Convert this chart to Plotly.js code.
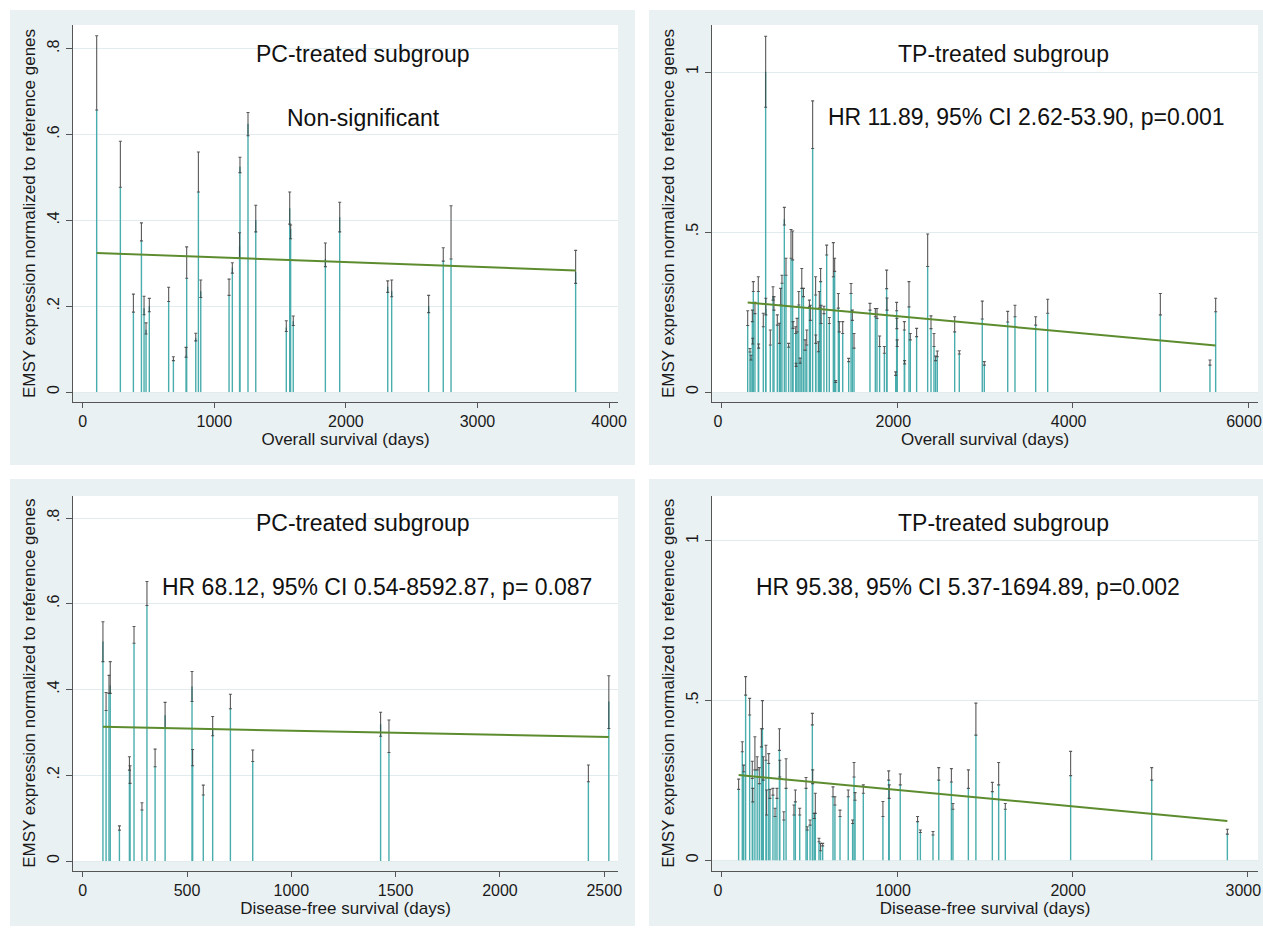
<!DOCTYPE html>
<html>
<head>
<meta charset="utf-8">
<script src="https://cdn.plot.ly/plotly-3.0.1.min.js"></script>
<style>
  html, body { margin: 0; padding: 0; background: #ffffff; }
  #chart { width: 1263px; height: 928px; }
</style>
</head>
<body>
<div id="chart"></div>
<script>
// ---------- PC-treated subgroup, overall survival ----------
const pcOsDays = [106, 286, 385, 446, 466, 481, 506, 653, 689, 785, 790, 859, 879, 897, 1112, 1137, 1195, 1192, 1256, 1315, 1547, 1573, 1580, 1600, 1844, 1953, 2318, 2348, 2629, 2740, 2799, 3746];
const pcOsEmsy = [0.657, 0.477, 0.186, 0.352, 0.195, 0.145, 0.200, 0.211, 0.075, 0.085, 0.265, 0.125, 0.466, 0.235, 0.225, 0.290, 0.525, 0.340, 0.625, 0.400, 0.150, 0.428, 0.380, 0.165, 0.310, 0.407, 0.245, 0.235, 0.200, 0.305, 0.310, 0.280];
const pcOsLow  = [0.657, 0.477, 0.186, 0.352, 0.180, 0.135, 0.187, 0.211, 0.073, 0.081, 0.265, 0.119, 0.466, 0.220, 0.225, 0.277, 0.511, 0.312, 0.597, 0.373, 0.141, 0.391, 0.357, 0.155, 0.292, 0.373, 0.232, 0.222, 0.185, 0.305, 0.310, 0.253];
const pcOsHigh = [0.830, 0.584, 0.228, 0.394, 0.223, 0.161, 0.218, 0.244, 0.082, 0.104, 0.338, 0.137, 0.559, 0.261, 0.263, 0.301, 0.547, 0.371, 0.651, 0.435, 0.166, 0.466, 0.389, 0.177, 0.347, 0.442, 0.259, 0.261, 0.225, 0.336, 0.434, 0.330];
const pcOsFitDays = [106, 3746];
const pcOsFitEmsy = [0.324, 0.283];

// ---------- TP-treated subgroup, overall survival ----------
const tpOsDays = [293, 319, 331, 346, 350, 357, 376, 414, 418, 471, 498, 500, 551, 582, 593, 631, 654, 669, 684, 711, 730, 760, 787, 806, 810, 841, 845, 856, 876, 891, 910, 929, 948, 967, 997, 1008, 1034, 1068, 1070, 1099, 1110, 1125, 1130, 1163, 1194, 1224, 1270, 1285, 1297, 1327, 1338, 1377, 1445, 1472, 1487, 1506, 1688, 1749, 1768, 1798, 1852, 1878, 1882, 1981, 1992, 1995, 1998, 2080, 2083, 2133, 2148, 2220, 2346, 2384, 2418, 2437, 2456, 2654, 2707, 2969, 2992, 3259, 3342, 3578, 3715, 5000, 5566, 5631];
const tpOsEmsy = [0.208, 0.125, 0.105, 0.220, 0.160, 0.314, 0.245, 0.314, 0.140, 0.204, 1.001, 0.260, 0.147, 0.300, 0.256, 0.209, 0.152, 0.272, 0.340, 0.540, 0.365, 0.145, 0.418, 0.413, 0.199, 0.183, 0.080, 0.188, 0.272, 0.095, 0.324, 0.298, 0.131, 0.147, 0.266, 0.224, 0.761, 0.303, 0.152, 0.126, 0.262, 0.345, 0.214, 0.245, 0.428, 0.214, 0.360, 0.377, 0.032, 0.262, 0.188, 0.183, 0.095, 0.308, 0.224, 0.137, 0.256, 0.235, 0.230, 0.142, 0.121, 0.323, 0.256, 0.052, 0.254, 0.198, 0.142, 0.194, 0.088, 0.266, 0.163, 0.173, 0.392, 0.198, 0.142, 0.098, 0.110, 0.188, 0.119, 0.228, 0.084, 0.219, 0.235, 0.209, 0.246, 0.241, 0.084, 0.251];
const tpOsLow  = [0.208, 0.125, 0.100, 0.220, 0.150, 0.314, 0.245, 0.314, 0.137, 0.204, 0.890, 0.241, 0.147, 0.287, 0.256, 0.209, 0.152, 0.272, 0.340, 0.522, 0.365, 0.140, 0.418, 0.413, 0.199, 0.183, 0.080, 0.188, 0.272, 0.090, 0.324, 0.298, 0.131, 0.147, 0.266, 0.224, 0.761, 0.303, 0.152, 0.126, 0.262, 0.345, 0.214, 0.245, 0.428, 0.214, 0.360, 0.377, 0.030, 0.262, 0.188, 0.183, 0.095, 0.308, 0.224, 0.137, 0.256, 0.235, 0.230, 0.142, 0.121, 0.323, 0.256, 0.052, 0.254, 0.198, 0.142, 0.194, 0.088, 0.266, 0.163, 0.173, 0.392, 0.198, 0.142, 0.098, 0.110, 0.188, 0.119, 0.228, 0.084, 0.219, 0.235, 0.209, 0.246, 0.241, 0.084, 0.251];
const tpOsHigh = [0.254, 0.136, 0.115, 0.256, 0.168, 0.345, 0.280, 0.360, 0.150, 0.246, 1.112, 0.293, 0.194, 0.329, 0.298, 0.241, 0.215, 0.324, 0.365, 0.577, 0.418, 0.152, 0.508, 0.503, 0.220, 0.204, 0.090, 0.230, 0.314, 0.106, 0.386, 0.324, 0.163, 0.194, 0.287, 0.271, 0.910, 0.360, 0.178, 0.157, 0.314, 0.386, 0.271, 0.268, 0.459, 0.233, 0.467, 0.418, 0.036, 0.308, 0.220, 0.220, 0.105, 0.339, 0.256, 0.183, 0.277, 0.261, 0.261, 0.175, 0.142, 0.381, 0.294, 0.063, 0.280, 0.230, 0.163, 0.220, 0.098, 0.345, 0.183, 0.199, 0.494, 0.238, 0.183, 0.112, 0.128, 0.235, 0.129, 0.284, 0.095, 0.252, 0.271, 0.235, 0.290, 0.308, 0.100, 0.293];
const tpOsFitDays = [293, 5631];
const tpOsFitEmsy = [0.280, 0.145];

// ---------- PC-treated subgroup, disease-free survival ----------
const pcDfsDays = [97, 112, 126, 132, 176, 224, 227, 246, 284, 308, 347, 395, 524, 527, 578, 623, 708, 815, 1428, 1468, 2424, 2522];
const pcDfsEmsy = [0.512, 0.351, 0.391, 0.410, 0.072, 0.212, 0.181, 0.508, 0.119, 0.596, 0.220, 0.340, 0.407, 0.222, 0.154, 0.310, 0.355, 0.232, 0.319, 0.253, 0.185, 0.372];
const pcDfsLow  = [0.465, 0.351, 0.391, 0.391, 0.072, 0.212, 0.181, 0.508, 0.119, 0.596, 0.220, 0.309, 0.372, 0.222, 0.154, 0.292, 0.355, 0.232, 0.291, 0.253, 0.185, 0.309];
const pcDfsHigh = [0.558, 0.393, 0.433, 0.465, 0.082, 0.243, 0.222, 0.547, 0.136, 0.652, 0.261, 0.370, 0.442, 0.260, 0.177, 0.337, 0.389, 0.259, 0.347, 0.329, 0.224, 0.432];
const pcDfsFitDays = [97, 2522];
const pcDfsFitEmsy = [0.313, 0.289];

// ---------- TP-treated subgroup, disease-free survival ----------
const tpDfsDays = [95, 116, 124, 135, 158, 173, 176, 188, 201, 213, 225, 231, 236, 251, 255, 267, 274, 291, 303, 314, 328, 330, 353, 366, 411, 419, 444, 480, 487, 503, 516, 518, 527, 533, 554, 563, 575, 634, 645, 674, 721, 746, 754, 760, 807, 919, 952, 955, 1018, 1117, 1133, 1205, 1238, 1310, 1319, 1407, 1450, 1544, 1580, 1618, 1991, 2454, 2886];
const tpDfsEmsy = [0.222, 0.340, 0.277, 0.517, 0.455, 0.256, 0.183, 0.283, 0.283, 0.240, 0.355, 0.412, 0.251, 0.313, 0.142, 0.303, 0.194, 0.204, 0.137, 0.194, 0.344, 0.261, 0.126, 0.225, 0.142, 0.183, 0.142, 0.225, 0.095, 0.110, 0.424, 0.240, 0.131, 0.147, 0.058, 0.030, 0.045, 0.199, 0.173, 0.137, 0.199, 0.115, 0.261, 0.188, 0.210, 0.137, 0.251, 0.194, 0.236, 0.121, 0.087, 0.079, 0.251, 0.245, 0.160, 0.225, 0.392, 0.215, 0.236, 0.160, 0.265, 0.251, 0.082];
const tpDfsLow  = [0.222, 0.340, 0.277, 0.517, 0.455, 0.256, 0.183, 0.283, 0.283, 0.240, 0.355, 0.412, 0.251, 0.313, 0.142, 0.303, 0.194, 0.204, 0.137, 0.194, 0.344, 0.261, 0.126, 0.225, 0.142, 0.183, 0.142, 0.225, 0.095, 0.110, 0.424, 0.240, 0.131, 0.147, 0.058, 0.030, 0.045, 0.199, 0.173, 0.137, 0.199, 0.115, 0.261, 0.188, 0.210, 0.137, 0.251, 0.194, 0.236, 0.121, 0.087, 0.079, 0.251, 0.245, 0.160, 0.225, 0.392, 0.215, 0.236, 0.160, 0.265, 0.251, 0.082];
const tpDfsHigh = [0.254, 0.371, 0.298, 0.575, 0.507, 0.310, 0.225, 0.387, 0.324, 0.290, 0.412, 0.500, 0.324, 0.360, 0.220, 0.334, 0.222, 0.225, 0.163, 0.225, 0.412, 0.313, 0.152, 0.318, 0.173, 0.220, 0.163, 0.259, 0.105, 0.126, 0.460, 0.283, 0.147, 0.210, 0.069, 0.053, 0.053, 0.230, 0.199, 0.157, 0.220, 0.126, 0.306, 0.212, 0.236, 0.184, 0.280, 0.236, 0.270, 0.137, 0.095, 0.090, 0.290, 0.287, 0.178, 0.283, 0.492, 0.244, 0.306, 0.178, 0.341, 0.290, 0.097];
const tpDfsFitDays = [95, 2886];
const tpDfsFitEmsy = [0.267, 0.123];

// ---------- labels ----------
const yTitle = 'EMSY expression normalized to reference genes';
const osTitle = 'Overall survival (days)';
const dfsTitle = 'Disease-free survival (days)';
const pcHeading = 'PC-treated subgroup';
const tpHeading = 'TP-treated subgroup';
const pcOsNote = 'Non-significant';
const tpOsNote = 'HR 11.89, 95% CI 2.62-53.90, p=0.001';
const pcDfsNote = 'HR 68.12, 95% CI 0.54-8592.87, p= 0.087';
const tpDfsNote = 'HR 95.38, 95% CI 5.37-1694.89, p=0.002';
const pcTickVals = [0, 0.2, 0.4, 0.6, 0.8];
const pcTickText = ['0', '.2', '.4', '.6', '.8'];
const tpTickVals = [0, 0.5, 1];
const tpTickText = ['0', '.5', '1'];

// ---------- styling ----------
const W = 1263, H = 928;
const FONT = 'Liberation Sans, Arial, Helvetica, sans-serif';
const PANEL_BG = '#eaf1f3';
const GRID = '#e2ecef';
const SPIKE = '#4aadad';
const CAP = 'rgba(60,60,60,0.85)';
const FIT = '#5d8c2f';
const AXIS = '#555555';
const TICK_SIZE = 16;
const TITLE_SIZE = 17;

const px = v => v / W;
const py = v => 1 - v / H;

const panels = [
  { days: pcOsDays, emsy: pcOsEmsy, low: pcOsLow, high: pcOsHigh, fx: pcOsFitDays, fy: pcOsFitEmsy,
    xr: [-74, 4068], yr: [-0.0233, 0.855], xt: [0, 1000, 2000, 3000, 4000], shift: 0,
    yv: pcTickVals, yt: pcTickText, xtitle: osTitle,
    dom: [73, 618, 25, 402], bg: [10, 635, 10, 465] },
  { days: tpOsDays, emsy: tpOsEmsy, low: tpOsLow, high: tpOsHigh, fx: tpOsFitDays, fy: tpOsFitEmsy,
    xr: [-114, 6114], yr: [-0.03125, 1.147], xt: [0, 2000, 4000, 6000], shift: -4,
    yv: tpTickVals, yt: tpTickText, xtitle: osTitle,
    dom: [712, 1258, 25, 402], bg: [649, 1263, 10, 465] },
  { days: pcDfsDays, emsy: pcDfsEmsy, low: pcDfsLow, high: pcDfsHigh, fx: pcDfsFitDays, fy: pcDfsFitEmsy,
    xr: [-46.5, 2566], yr: [-0.0226, 0.852], xt: [0, 500, 1000, 1500, 2000, 2500], shift: 0,
    yv: pcTickVals, yt: pcTickText, xtitle: dfsTitle,
    dom: [73, 618, 495.7, 870.7], bg: [10, 635, 479, 926] },
  { days: tpDfsDays, emsy: tpDfsEmsy, low: tpDfsLow, high: tpDfsHigh, fx: tpDfsFitDays, fy: tpDfsFitEmsy,
    xr: [-57, 3061], yr: [-0.0326, 1.1415], xt: [0, 1000, 2000, 3000], shift: -4,
    yv: tpTickVals, yt: tpTickText, xtitle: dfsTitle,
    dom: [712, 1258, 495.7, 870.7], bg: [649, 1263, 479, 926] }
];

const traces = [];
const layout = {
  width: W, height: H,
  margin: { l: 0, r: 0, t: 0, b: 0 },
  paper_bgcolor: '#ffffff',
  plot_bgcolor: 'rgba(0,0,0,0)',
  showlegend: false,
  font: { family: FONT, color: '#1a1a1a' },
  shapes: [],
  annotations: []
};

panels.forEach((p, i) => {
  const n = i === 0 ? '' : String(i + 1);
  const xa = 'x' + n, ya = 'y' + n;

  // spikes from zero up to each measurement
  traces.push({
    type: 'scatter', mode: 'markers', xaxis: xa, yaxis: ya,
    x: p.days, y: p.emsy,
    marker: { size: 2, opacity: 0 },
    error_y: { type: 'data', symmetric: false, array: p.emsy.map(() => 0), arrayminus: p.emsy,
               color: SPIKE, thickness: 1.4, width: 0 },
    hoverinfo: 'skip'
  });
  // capped range of replicate measurements
  traces.push({
    type: 'scatter', mode: 'markers', xaxis: xa, yaxis: ya,
    x: p.days, y: p.emsy,
    marker: { size: 2, opacity: 0 },
    error_y: { type: 'data', symmetric: false,
               array: p.high.map((h, k) => h - p.emsy[k]),
               arrayminus: p.low.map((l, k) => p.emsy[k] - l),
               color: CAP, thickness: 1.1, width: 1.5 },
    hoverinfo: 'skip'
  });
  // linear fit
  traces.push({
    type: 'scatter', mode: 'lines', xaxis: xa, yaxis: ya,
    x: p.fx, y: p.fy, line: { color: FIT, width: 2 }, hoverinfo: 'skip'
  });

  const [l, r, t, b] = p.dom;
  layout['xaxis' + n] = {
    domain: [px(l), px(r)], anchor: ya, range: p.xr,
    tickvals: p.xt, ticks: 'outside', ticklen: 5, tickwidth: 1, tickcolor: AXIS,
    ticklabelshift: p.shift,
    showline: true, linecolor: AXIS, linewidth: 1.2, showgrid: false, zeroline: false,
    tickfont: { size: TICK_SIZE, family: FONT, color: '#1a1a1a' },
    title: { text: p.xtitle, font: { size: TITLE_SIZE, family: FONT, color: '#1a1a1a' }, standoff: 3 },
    automargin: false
  };
  layout['yaxis' + n] = {
    domain: [py(b), py(t)], anchor: xa, range: p.yr,
    tickvals: p.yv, ticktext: p.yt, tickangle: -90,
    ticks: 'outside', ticklen: 6, tickwidth: 1, tickcolor: AXIS,
    showline: true, linecolor: AXIS, linewidth: 1.2,
    showgrid: true, gridcolor: GRID, gridwidth: 1, zeroline: false,
    tickfont: { size: TICK_SIZE, family: FONT, color: '#1a1a1a' },
    title: { text: yTitle, font: { size: TITLE_SIZE, family: FONT, color: '#1a1a1a' }, standoff: 5 },
    automargin: false
  };

  // panel background
  const [bl, br, bt, bb] = p.bg;
  layout.shapes.push({
    type: 'rect', xref: 'paper', yref: 'paper', layer: 'below',
    x0: px(bl), x1: px(br), y0: py(bb), y1: py(bt),
    fillcolor: PANEL_BG, line: { width: 0 }
  });
  // white plot region above zero
  layout.shapes.push({
    type: 'rect', xref: xa + ' domain', yref: ya, layer: 'below',
    x0: 0, x1: 1, y0: 0, y1: p.yr[1],
    fillcolor: '#ffffff', line: { width: 0 }
  });
});

// headings and test results
const textAt = (text, x, y) => ({
  text, xref: 'paper', yref: 'paper', x: px(x), y: py(y),
  xanchor: 'center', yanchor: 'middle', showarrow: false,
  font: { size: 23, family: FONT, color: '#111111' }
});
layout.annotations.push(
  textAt(pcHeading, 363, 54),
  textAt(pcOsNote, 363, 118),
  textAt(tpHeading, 1003, 54),
  textAt(tpOsNote, 1026, 117),
  textAt(pcHeading, 363, 523),
  textAt(pcDfsNote, 377, 587),
  textAt(tpHeading, 1003, 523),
  textAt(tpDfsNote, 968, 587)
);

Plotly.newPlot('chart', traces, layout, { staticPlot: true, displayModeBar: false });
</script>
</body>
</html>
